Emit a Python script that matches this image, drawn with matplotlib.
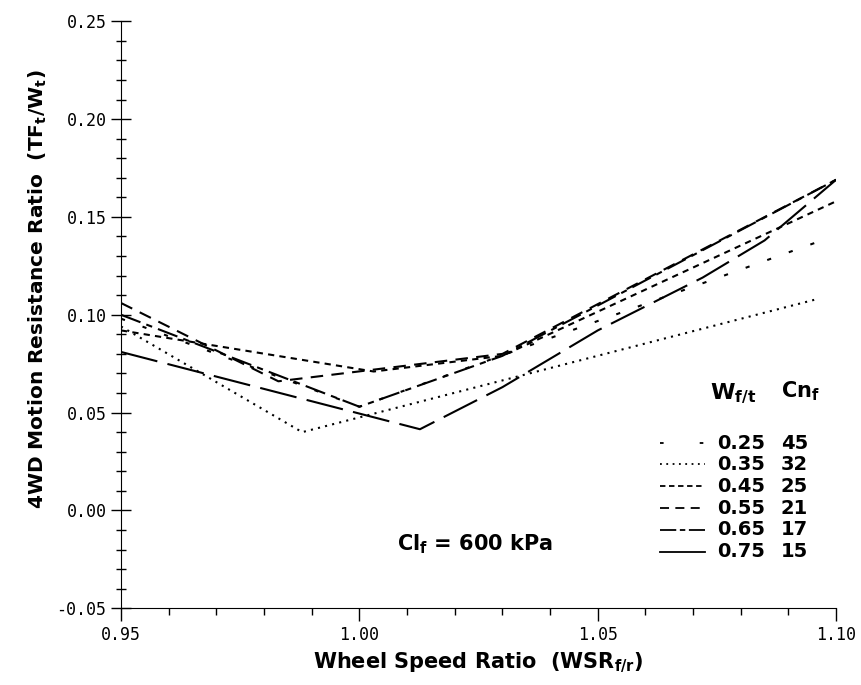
import matplotlib
matplotlib.use('Agg')
import matplotlib.pyplot as plt
from matplotlib.ticker import MultipleLocator, FormatStrFormatter

plt.rcParams['mathtext.fontset'] = 'custom'
plt.rcParams['mathtext.rm'] = 'DejaVu Sans:bold'
plt.rcParams['mathtext.it'] = 'DejaVu Sans:bold'
plt.rcParams['mathtext.bf'] = 'DejaVu Sans:bold'

# curvas: razao de velocidade x resistencia ao movimento
w_ft = ['0.25', '0.35', '0.45', '0.55', '0.65', '0.75']
cn_f = ['45', '32', '25', '21', '17', '15']

wsr_025 = [0.95, 1.000, 1.097]
mr_025 = [0.098, 0.053, 0.138]
wsr_035 = [0.95, 0.988, 1.096]
mr_035 = [0.094, 0.040, 0.108]
wsr_045 = [0.95, 1.003, 1.030, 1.10]
mr_045 = [0.092, 0.071, 0.079, 0.158]
wsr_055 = [0.95, 0.983, 1.030, 1.10]
mr_055 = [0.106, 0.066, 0.080, 0.169]
wsr_065 = [0.95, 1.000, 1.030, 1.10]
mr_065 = [0.100, 0.053, 0.079, 0.169]
wsr_075 = [0.95, 1.0127, 1.030, 1.050, 1.072, 1.085, 1.10]
mr_075 = [0.081, 0.0415, 0.063, 0.092, 0.119, 0.138, 0.169]

series = [(wsr_025, mr_025), (wsr_035, mr_035), (wsr_045, mr_045),
          (wsr_055, mr_055), (wsr_065, mr_065), (wsr_075, mr_075)]
estilos = [(0, (2, 9)), (0, (1, 2.5)), (0, (3, 2.5)), (0, (6, 4)),
           (0, (10, 3, 3, 3)), (0, (18, 5))]
estilos_leg = [(0, (2, 20)), (0, (1, 2.5)), (0, (3, 2)), (0, (5, 3.5)),
               (0, (9, 2, 3, 2)), 'solid']

fig = plt.figure(figsize=(8.62, 6.85), dpi=100)
ax = fig.add_axes([0.1404, 0.112, 0.8296, 0.857])

for (x, y), ls in zip(series, estilos):
    ax.plot(x, y, color='black', lw=1.5, linestyle=ls)

ax.set_xlim(0.95, 1.10)
ax.set_ylim(-0.05, 0.25)
ax.xaxis.set_major_locator(MultipleLocator(0.05))
ax.xaxis.set_minor_locator(MultipleLocator(0.01))
ax.yaxis.set_major_locator(MultipleLocator(0.05))
ax.yaxis.set_minor_locator(MultipleLocator(0.01))
ax.xaxis.set_major_formatter(FormatStrFormatter('%.2f'))
ax.yaxis.set_major_formatter(FormatStrFormatter('%.2f'))
for s in ['top', 'right']:
    ax.spines[s].set_visible(False)
ax.tick_params(axis='x', which='major', direction='out', length=9, width=1)
ax.tick_params(axis='x', which='minor', direction='out', length=5, width=1)
ax.tick_params(axis='y', which='major', direction='inout', length=14, width=1)
ax.tick_params(axis='y', which='minor', direction='inout', length=7, width=1)
for lab in ax.get_xticklabels() + ax.get_yticklabels():
    lab.set_family('DejaVu Sans Mono')
    lab.set_fontsize(12)
    lab.set_fontweight('light')

ax.set_xlabel('Wheel Speed Ratio  (WSR$_{f/r}$)', fontsize=15,
              fontweight='bold', family='DejaVu Sans', labelpad=5)
ax.set_ylabel('4WD Motion Resistance Ratio  (TF$_t$/W$_t$)', fontsize=14.5,
              fontweight='bold', family='DejaVu Sans')
ax.yaxis.set_label_coords(-0.101, 0.543)

# legenda em forma de tabela
ax.text(1.0784, 0.0595, 'W$_{f/t}$', fontsize=16, fontweight='bold',
        family='DejaVu Sans', ha='center', va='center')
ax.text(1.0926, 0.0610, 'Cn$_f$', fontsize=15, fontweight='bold',
        family='DejaVu Sans', ha='center', va='center')
y_linhas = [0.0344, 0.0236, 0.0123, 0.0010, -0.0098, -0.0210]
for i in range(len(w_ft)):
    yl = y_linhas[i]
    ax.plot([1.0631, 1.0725], [yl, yl], color='black', lw=1.3,
            linestyle=estilos_leg[i])
    ax.text(1.0750, yl, w_ft[i], fontsize=14, fontweight='bold',
            family='DejaVu Sans', va='center')
    ax.text(1.0884, yl, cn_f[i], fontsize=14, fontweight='bold',
            family='DejaVu Sans', va='center')

ax.text(1.0243, -0.017, 'Cl$_f$ = 600 kPa', fontsize=15, fontweight='bold',
        family='DejaVu Sans', ha='center', va='center')

fig.savefig('out.png', dpi=100)
